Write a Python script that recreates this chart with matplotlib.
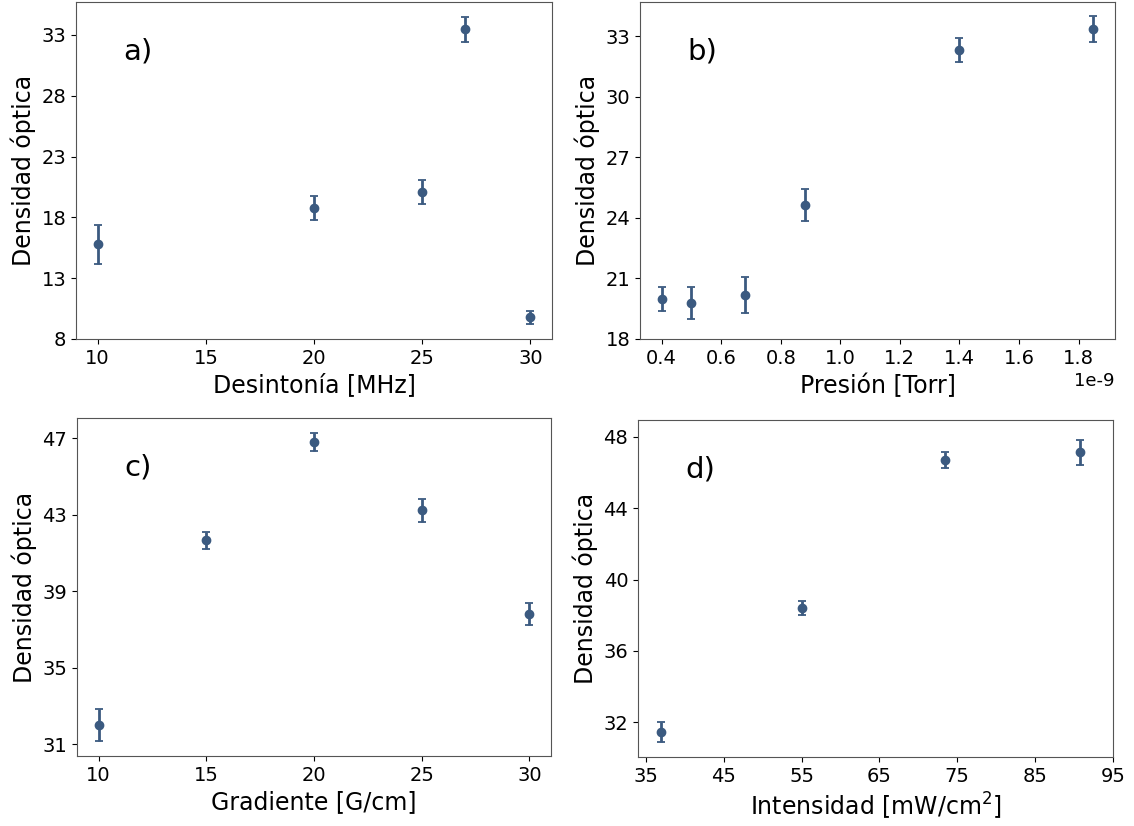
import numpy as np
import matplotlib
matplotlib.use('Agg')
import matplotlib.pyplot as plt

plt.rcParams['axes.unicode_minus'] = False

# a) detuning
det_x = [10, 20, 25, 27, 30]
det_y = [15.8, 18.76, 20.07, 33.46, 9.8]
det_err = [1.6, 1.0, 0.97, 1.04, 0.53]

# b) pressure
pres_x = [0.4e-9, 0.5e-9, 0.68e-9, 0.88e-9, 1.4e-9, 1.85e-9]
pres_y = [19.99, 19.78, 20.18, 24.64, 32.34, 33.35]
pres_err = [0.6, 0.81, 0.91, 0.79, 0.59, 0.65]

# c) gradient
grad_x = [10, 15, 20, 25, 30]
grad_y = [32.03, 41.65, 46.79, 43.22, 37.80]
grad_err = [0.84, 0.43, 0.46, 0.58, 0.58]

# d) intensity
int_x = [37.0, 55.0, 73.4, 90.8]
int_y = [31.44, 38.38, 46.69, 47.14]
int_err = [0.55, 0.40, 0.44, 0.70]

color = '#3b5a80'
W, H = 1134, 826

fig = plt.figure(figsize=(W/100, H/100), dpi=100)

def make_ax(l, r, t, b):
    return fig.add_axes([l/W, 1 - b/H, (r - l)/W, (b - t)/H])

def panel(ax, x, y, err, label, xlabel):
    ax.errorbar(x, y, yerr=err, fmt='o', color=color, ecolor=color,
                elinewidth=2, capsize=3, capthick=1.3, markersize=6)
    ax.text(0.10, 0.83, label, transform=ax.transAxes, fontsize=21)
    ax.set_xlabel(xlabel, fontsize=17)
    ax.set_ylabel('Densidad óptica', fontsize=17)
    ax.tick_params(labelsize=14)
    for s in ax.spines.values():
        s.set_color('#555555')

ax1 = make_ax(76, 552, 2, 339)
panel(ax1, det_x, det_y, det_err, 'a)', 'Desintonía [MHz]')
ax1.set_xlim(9, 31)
ax1.set_ylim(8, 35.7)
ax1.set_yticks(np.arange(8, 34, 5))
ax1.set_xticks([10, 15, 20, 25, 30])

ax2 = make_ax(640, 1115, 2, 339)
panel(ax2, pres_x, pres_y, pres_err, 'b)', 'Presión [Torr]')
ax2.set_ylim(18, 34.7)
ax2.set_yticks(np.arange(18, 34, 3))
ax2.set_xticks(np.arange(0.4, 1.81, 0.2) * 1e-9)
ax2.xaxis.get_offset_text().set_fontsize(13)

ax3 = make_ax(77, 551, 418, 756)
panel(ax3, grad_x, grad_y, grad_err, 'c)', 'Gradiente [G/cm]')
ax3.set_xlim(9, 31)
ax3.set_ylim(30.39, 48.05)
ax3.set_yticks(np.arange(31, 48, 4))
ax3.set_xticks([10, 15, 20, 25, 30])

ax4 = make_ax(638, 1113, 420, 757)
panel(ax4, int_x, int_y, int_err, 'd)', r'Intensidad [mW/cm$^2$]')
ax4.set_xlim(34, 95)
ax4.set_ylim(30.04, 48.95)
ax4.set_yticks(np.arange(32, 49, 4))
ax4.set_xticks(np.arange(35, 96, 10))

plt.savefig('out.png', dpi=100, facecolor='white')
